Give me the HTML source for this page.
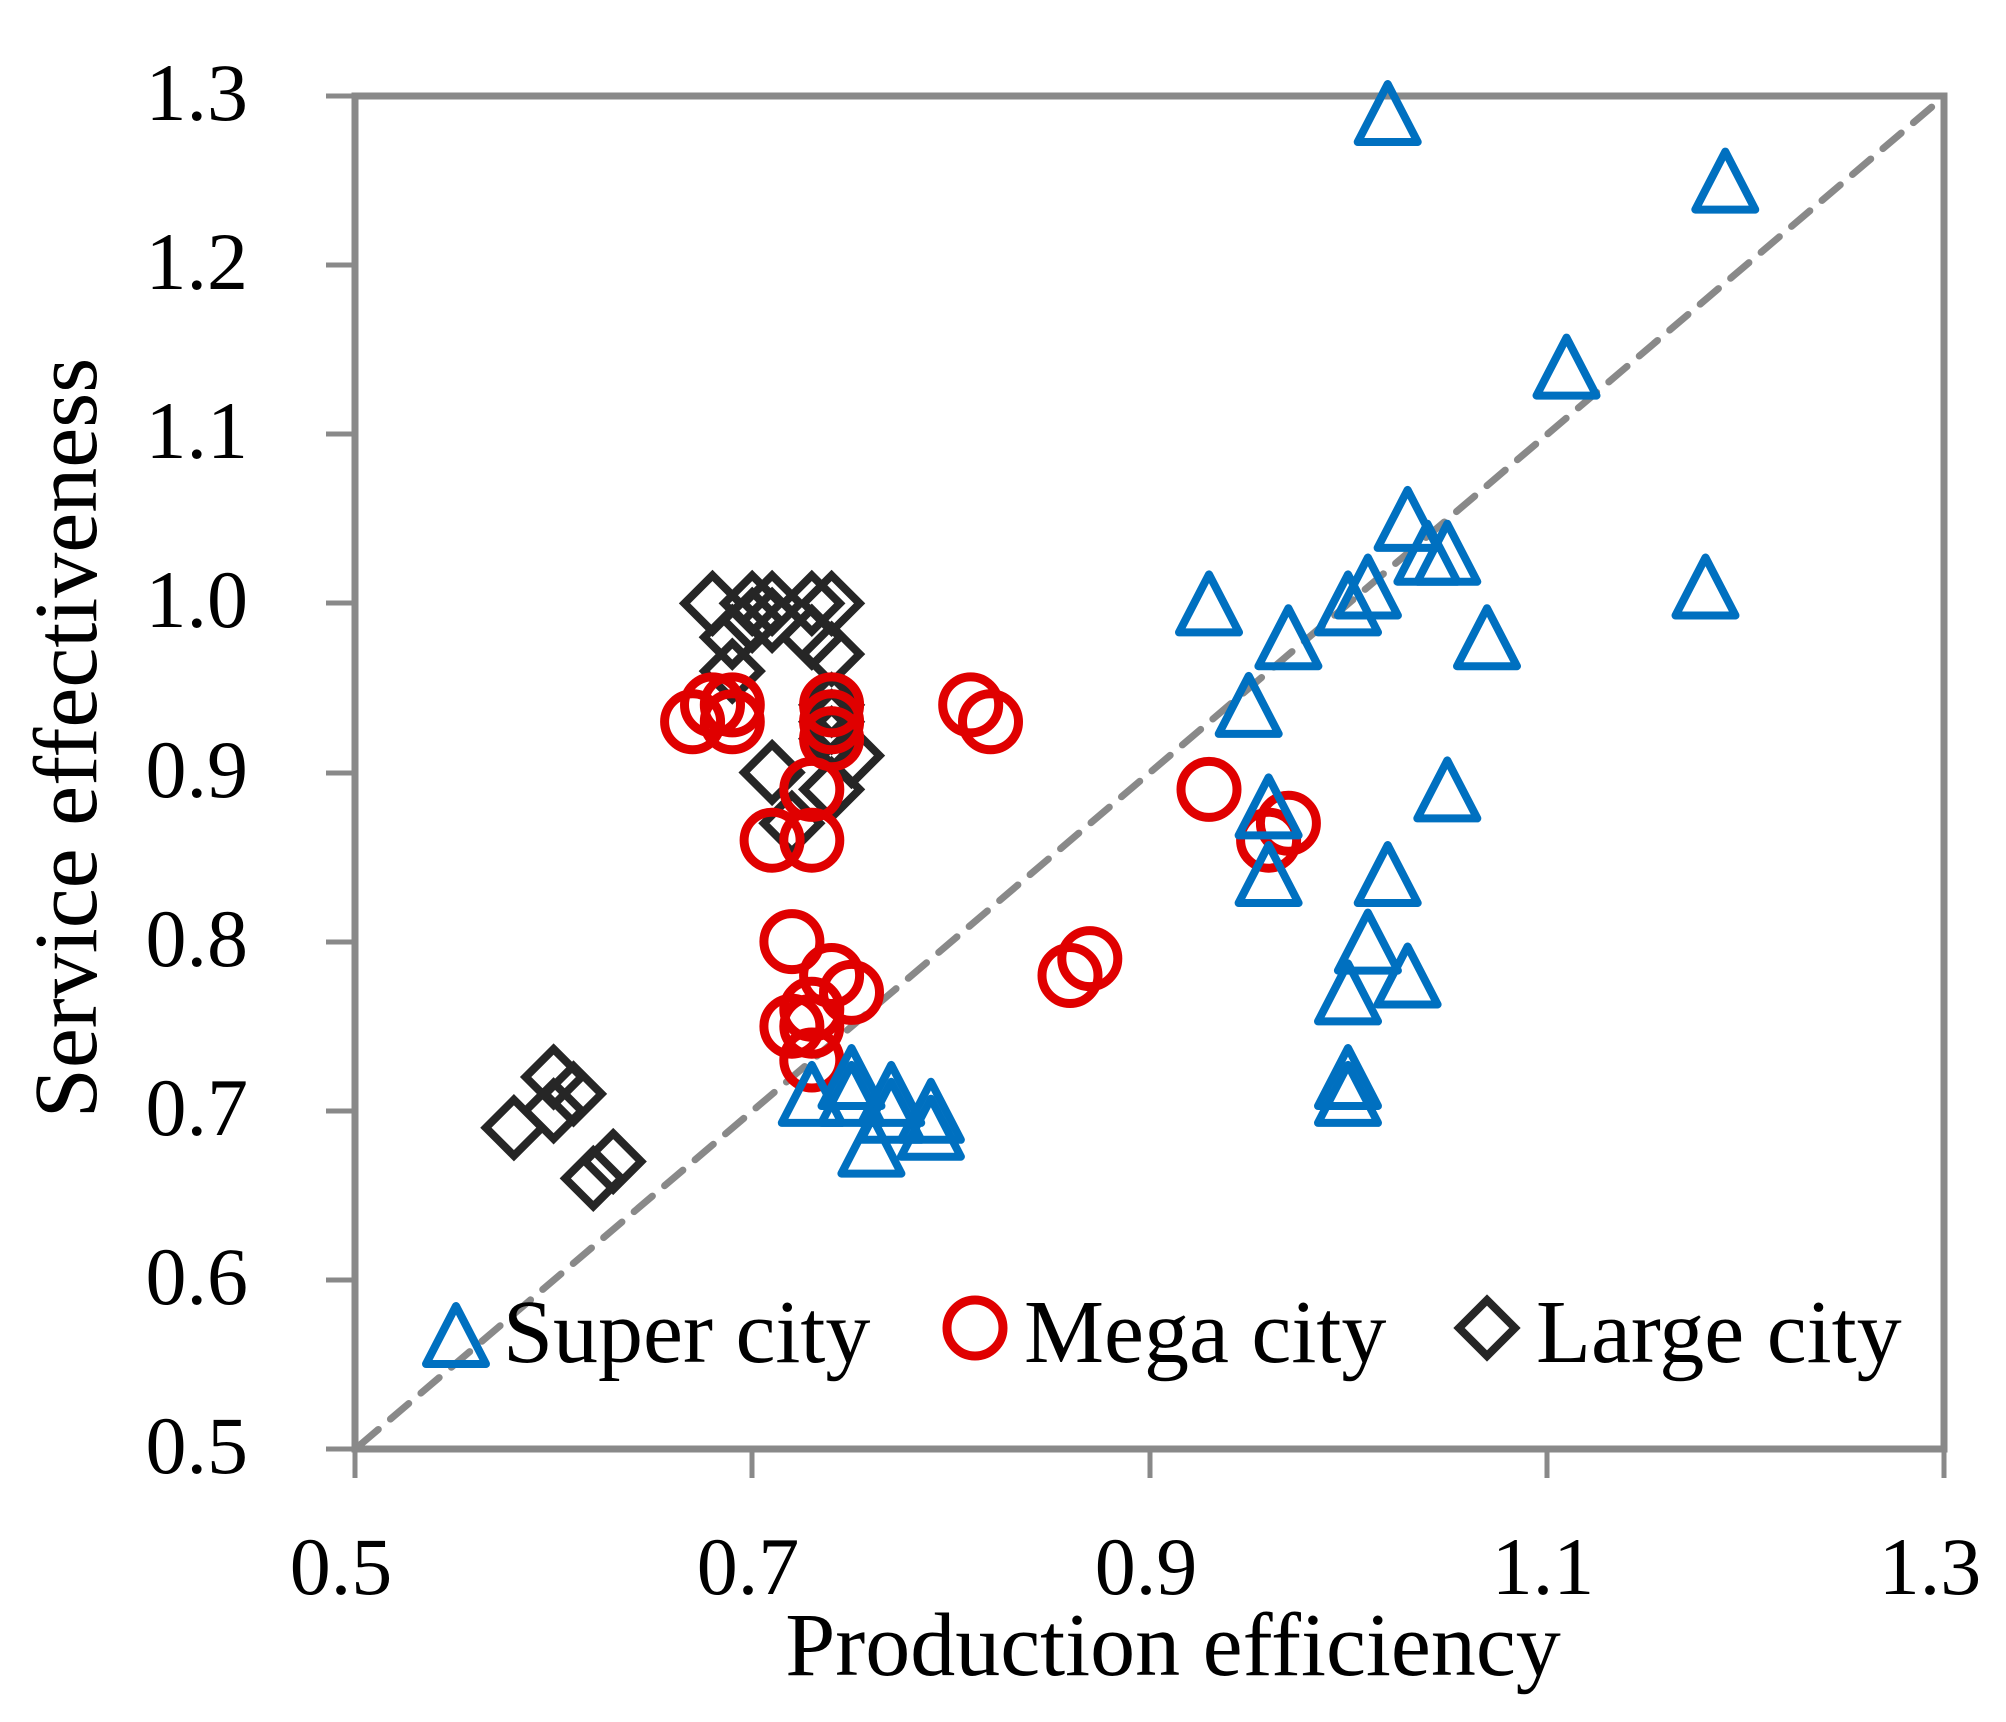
<!DOCTYPE html>
<html><head><meta charset="utf-8"><style>
html,body{margin:0;padding:0;background:#fff;}
svg{display:block;}
text{font-family:"Liberation Serif",serif;fill:#000;}
</style></head><body>
<svg width="2006" height="1722" viewBox="0 0 2006 1722" xmlns="http://www.w3.org/2000/svg">
<defs>
<path id="t" d="M0,-29 L30,29 L-30,29 Z" fill="none" stroke="#0070c0" stroke-width="8" stroke-linejoin="round"/>
<circle id="c" r="28" fill="none" stroke="#e00000" stroke-width="9"/>
<path id="d" d="M0,-28 L28,0 L0,28 L-28,0 Z" fill="none" stroke="#262626" stroke-width="8" stroke-linejoin="miter"/>
</defs>
<g stroke="#898989" stroke-width="5">
<line x1="326" y1="96" x2="355" y2="96"/>
<line x1="326" y1="265" x2="355" y2="265"/>
<line x1="326" y1="434" x2="355" y2="434"/>
<line x1="326" y1="603" x2="355" y2="603"/>
<line x1="326" y1="773" x2="355" y2="773"/>
<line x1="326" y1="942" x2="355" y2="942"/>
<line x1="326" y1="1111" x2="355" y2="1111"/>
<line x1="326" y1="1280" x2="355" y2="1280"/>
<line x1="326" y1="1449" x2="355" y2="1449"/>
<line x1="355" y1="1449" x2="355" y2="1478"/>
<line x1="752" y1="1449" x2="752" y2="1478"/>
<line x1="1150" y1="1449" x2="1150" y2="1478"/>
<line x1="1547" y1="1449" x2="1547" y2="1478"/>
<line x1="1944" y1="1449" x2="1944" y2="1478"/>
</g>
<rect x="355" y="96" width="1589" height="1353" fill="none" stroke="#898989" stroke-width="7"/>
<line x1="360" y1="1445" x2="1940" y2="100" stroke="#898989" stroke-width="7" stroke-dasharray="24,16" stroke-linecap="round"/>
<g font-size="82" text-anchor="end">
<text x="248" y="120">1.3</text>
<text x="248" y="289">1.2</text>
<text x="248" y="458">1.1</text>
<text x="248" y="627">1.0</text>
<text x="248" y="797">0.9</text>
<text x="248" y="966">0.8</text>
<text x="248" y="1135">0.7</text>
<text x="248" y="1304">0.6</text>
<text x="248" y="1473">0.5</text>
</g>
<g font-size="82" text-anchor="middle">
<text x="341" y="1594">0.5</text>
<text x="748" y="1594">0.7</text>
<text x="1146" y="1594">0.9</text>
<text x="1543" y="1594">1.1</text>
<text x="1930" y="1594">1.3</text>
</g>
<text x="1173" y="1675" font-size="90" text-anchor="middle">Production efficiency</text>
<text transform="translate(96,738) rotate(-90)" font-size="90" text-anchor="middle">Service effectiveness</text>
<g>
<use href="#d" x="712.5" y="603.4"/><use href="#d" x="752.2" y="603.4"/><use href="#d" x="772.1" y="603.4"/><use href="#d" x="811.8" y="603.4"/><use href="#d" x="831.6" y="603.4"/>
<use href="#d" x="752.2" y="620.3"/><use href="#d" x="772.1" y="620.3"/><use href="#d" x="732.3" y="637.2"/><use href="#d" x="811.8" y="637.2"/><use href="#d" x="831.6" y="654.1"/>
<use href="#d" x="732.3" y="671.1"/><use href="#d" x="831.6" y="704.9"/><use href="#d" x="831.6" y="721.8"/><use href="#d" x="831.6" y="738.7"/><use href="#d" x="851.5" y="755.6"/>
<use href="#d" x="831.6" y="789.4"/><use href="#d" x="772.1" y="772.5"/><use href="#d" x="791.9" y="823.3"/>
<use href="#d" x="553.6" y="1077"/><use href="#d" x="573.5" y="1093.9"/><use href="#d" x="553.6" y="1110.8"/><use href="#d" x="513.9" y="1127.7"/><use href="#d" x="613.2" y="1161.5"/><use href="#d" x="593.3" y="1178.4"/>
</g>
<g>
<use href="#c" x="692.6" y="721.8"/><use href="#c" x="712.5" y="704.9"/><use href="#c" x="732.3" y="704.9"/><use href="#c" x="732.3" y="721.8"/>
<use href="#c" x="831.6" y="704.9"/><use href="#c" x="831.6" y="721.8"/><use href="#c" x="831.6" y="738.7"/>
<use href="#c" x="970.7" y="704.9"/><use href="#c" x="990.5" y="721.8"/>
<use href="#c" x="811.8" y="789.4"/><use href="#c" x="772.1" y="840.2"/><use href="#c" x="811.8" y="840.2"/>
<use href="#c" x="1209" y="789.4"/><use href="#c" x="1268.6" y="840.2"/><use href="#c" x="1288.4" y="823.3"/>
<use href="#c" x="791.9" y="941.6"/><use href="#c" x="831.6" y="975.5"/><use href="#c" x="851.5" y="992.4"/>
<use href="#c" x="811.8" y="1009.3"/><use href="#c" x="791.9" y="1026.2"/><use href="#c" x="811.8" y="1026.2"/><use href="#c" x="811.8" y="1060"/>
<use href="#c" x="1070" y="975.5"/><use href="#c" x="1089.8" y="958.6"/>
</g>
<g>
<use href="#t" x="1387.7" y="113"/><use href="#t" x="1725.3" y="180.6"/><use href="#t" x="1566.5" y="366.6"/>
<use href="#t" x="1407.6" y="518.9"/><use href="#t" x="1427.4" y="552.7"/><use href="#t" x="1447.3" y="552.7"/>
<use href="#t" x="1209" y="603.4"/><use href="#t" x="1348" y="603.4"/><use href="#t" x="1367.9" y="586.5"/><use href="#t" x="1705.5" y="586.5"/>
<use href="#t" x="1288.4" y="637.2"/><use href="#t" x="1487" y="637.2"/><use href="#t" x="1248.7" y="704.9"/>
<use href="#t" x="1447.3" y="789.4"/><use href="#t" x="1268.6" y="806.4"/><use href="#t" x="1268.6" y="874"/><use href="#t" x="1387.7" y="874"/>
<use href="#t" x="1367.9" y="941.6"/><use href="#t" x="1407.6" y="975.5"/><use href="#t" x="1348" y="992.4"/>
<use href="#t" x="1348" y="1077"/><use href="#t" x="1348" y="1093.9"/>
<use href="#t" x="811.8" y="1093.9"/><use href="#t" x="851.5" y="1077"/><use href="#t" x="851.5" y="1093.9"/>
<use href="#t" x="891.2" y="1093.9"/><use href="#t" x="891.2" y="1110.8"/><use href="#t" x="930.9" y="1110.8"/><use href="#t" x="930.9" y="1127.7"/><use href="#t" x="871.4" y="1144.6"/>
</g>
<use href="#t" x="456" y="1335"/>
<text x="503" y="1362" font-size="90">Super city</text>
<use href="#c" x="975" y="1328"/>
<text x="1024" y="1362" font-size="90">Mega city</text>
<use href="#d" x="1487" y="1328"/>
<text x="1536" y="1362" font-size="90">Large city</text>
</svg>
</body></html>
